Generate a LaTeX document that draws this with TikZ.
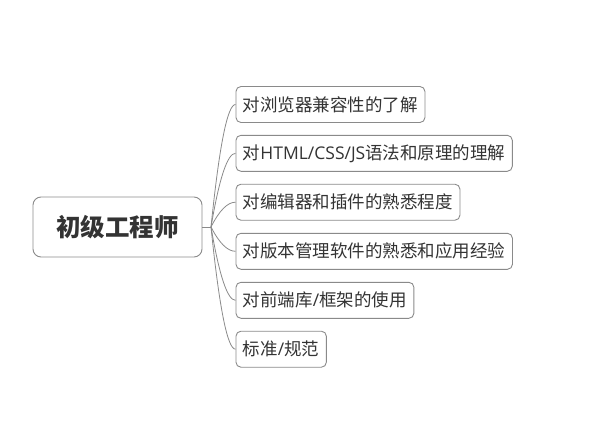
\documentclass[tikz,border=0pt]{standalone}
\usepackage{fontspec}
\usetikzlibrary{calc}
\setmainfont{Noto Sans CJK SC}
\newfontfamily\latfont{Open Sans}
\definecolor{boxline}{HTML}{8A8A8A}
\definecolor{txt}{HTML}{333333}
\begin{document}
\begin{tikzpicture}[x=1pt,y=-1pt,
  rootbox/.style={draw=boxline,line width=0.9pt,rounded corners=8pt,minimum width=169pt,minimum height=60pt,text=txt,font=\fontsize{24.5}{28}\selectfont\bfseries,inner sep=0pt},
  childbox/.style={draw=boxline,line width=0.9pt,rounded corners=5pt,minimum height=36pt,text=txt,font=\fontsize{17.5}{20}\selectfont,inner xsep=7pt,inner ysep=0pt,anchor=west},
  link/.style={draw=boxline,line width=0.8pt}]
\useasboundingbox (0,0) rectangle (599,428);
\node[rootbox] (root) at (117.5,227) {初级工程师};
\coordinate (j) at (211,227);
\node[childbox] (c1) at (235.5,104.5) {对浏览器兼容性的了解};
\node[childbox] (c2) at (235.5,153.3) {对{\latfont HTML/CSS/JS}语法和原理的理解};
\node[childbox] (c3) at (235.5,202.2) {对编辑器和插件的熟悉程度};
\node[childbox] (c4) at (235.5,251.3) {对版本管理软件的熟悉和应用经验};
\node[childbox] (c5) at (235.5,300.3) {对前端库{\latfont/}框架的使用};
\node[childbox] (c6) at (235.5,349.2) {标准{\latfont/}规范};
\draw[link] (root.east) -- (j);
\foreach \c in {c1,c2,c3,c4,c5,c6}{
  \coordinate (q) at ([xshift=-12pt]\c.west);
  \draw[link] (j) .. controls ($(j)!0.667!(q)$) and ($(\c.west)!0.667!(q)$) .. (\c.west);
}
\end{tikzpicture}
\end{document}
